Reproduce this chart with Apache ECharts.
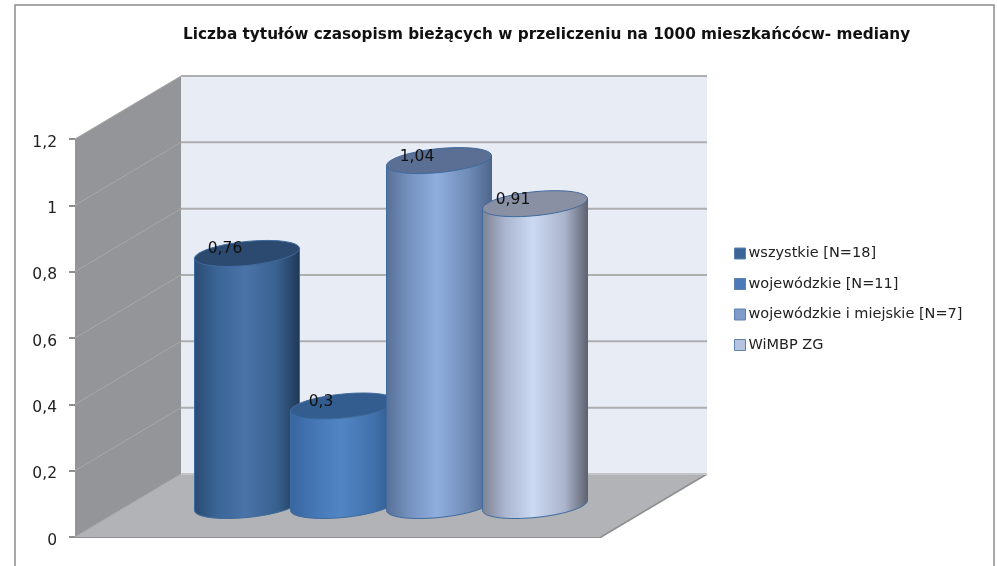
<!DOCTYPE html>
<html>
<head>
<meta charset="utf-8">
<style>html,body{margin:0;padding:0;background:#fff}#main{width:997px;height:566px}</style>
<script src="https://cdn.jsdelivr.net/npm/echarts@6/dist/echarts.min.js"></script>
</head>
<body>
<div id="main"></div>
<script>
const chartTitle = 'Liczba tytułów czasopism bieżących w przeliczeniu na 1000 mieszkańcócw- mediany';
const categories = [''];
const seriesNames = ['wszystkie [N=18]', 'wojewódzkie [N=11]', 'wojewódzkie i miejskie [N=7]', 'WiMBP ZG'];
const seriesValues = [0.76, 0.3, 1.04, 0.91];
const gridValues = [0, 0.2, 0.4, 0.6, 0.8, 1, 1.2];

// side gradient stops + top ellipse colour for each cylinder
const sideColors = [
  ['#2a4b73', '#3a6595', '#4a73a9', '#39618f', '#1f3856'],
  ['#3766a0', '#4576b4', '#5185c4', '#4272ad', '#2f5884'],
  ['#566f96', '#7592bf', '#8fadde', '#6f8bb6', '#4c658c'],
  ['#7c828f', '#abb6d1', '#cbd9f2', '#aab4cc', '#5d616e']
];
const topColors = ['#2c4a70', '#335d8e', '#5a6f93', '#8a90a3'];
const legendColors = ['#3c6597', '#4a7ab8', '#7f9bc8', '#b3c3e0'];

const depthX = 106, depthY = -63;
const rx = 52.5, ry = 12, shear = 5, gap = 96;

const chart = echarts.init(document.getElementById('main'));

function ellipsePoints(cx, cy, from, to) {
  const pts = [];
  for (let i = 0; i <= 48; i++) {
    const t = from + (to - from) * i / 48;
    pts.push([cx + rx * Math.cos(t), cy - shear * Math.cos(t) + ry * Math.sin(t)]);
  }
  return pts;
}

function cylinder(index) {
  return function (params, api) {
    const base = api.coord([0, 0]);
    const top = api.coord([0, api.value(1)]);
    const cx = base[0] + depthX / 2 + gap * (index - 1.5);
    const by = base[1] + depthY / 2;
    const ty = top[1] + depthY / 2;
    const stops = sideColors[index];
    const side = [[cx - rx, ty + shear]].concat(ellipsePoints(cx, by, Math.PI, 0), [[cx + rx, ty - shear]]);
    return {
      type: 'group',
      children: [
        {
          type: 'polygon',
          shape: { points: side },
          style: {
            fill: new echarts.graphic.LinearGradient(0, 0, 1, 0, [
              { offset: 0, color: stops[0] },
              { offset: 0.22, color: stops[1] },
              { offset: 0.48, color: stops[2] },
              { offset: 0.78, color: stops[3] },
              { offset: 1, color: stops[4] }
            ]),
            stroke: '#3f6a9e',
            lineWidth: 1
          }
        },
        {
          type: 'polygon',
          shape: { points: ellipsePoints(cx, ty, 0, Math.PI * 2) },
          style: { fill: topColors[index], stroke: '#3f6a9e', lineWidth: 1 }
        },
        {
          type: 'text',
          x: cx - 22,
          y: ty - 4,
          style: {
            text: String(api.value(1)).replace('.', ','),
            fill: '#111',
            font: '15.5px "DejaVu Sans"',
            align: 'center',
            verticalAlign: 'middle'
          }
        }
      ]
    };
  };
}

function renderWalls(params, api) {
  const a = api.coord([0, 0]);
  const b = api.coord([0, 1.2]);
  const half = api.size([1, 0])[0] / 2;
  const x0 = a[0] - half, x1 = a[0] + half, y0 = a[1], y1 = b[1];
  return {
    type: 'group',
    children: [
      {
        type: 'polygon',
        shape: { points: [[x0 + depthX, y1 + depthY], [x1 + depthX, y1 + depthY], [x1 + depthX, y0 + depthY], [x0 + depthX, y0 + depthY]] },
        style: { fill: '#e8ecf5' }
      },
      {
        type: 'polygon',
        shape: { points: [[x0, y1], [x0 + depthX, y1 + depthY], [x0 + depthX, y0 + depthY], [x0, y0]] },
        style: { fill: '#949598' }
      },
      {
        type: 'polygon',
        shape: { points: [[x0, y0], [x1, y0], [x1 + depthX, y0 + depthY], [x0 + depthX, y0 + depthY]] },
        style: { fill: '#b1b3b6' }
      },
      {
        type: 'polyline',
        shape: { points: [[x1, y0], [x1 + depthX, y0 + depthY]] },
        style: { stroke: '#8e8f91', lineWidth: 1.5, fill: 'none' }
      }
    ]
  };
}

function renderGridLine(params, api) {
  const p = api.coord([0, api.value(1)]);
  const half = api.size([1, 0])[0] / 2;
  const x0 = p[0] - half, x1 = p[0] + half, y = p[1];
  const isFloor = api.value(1) === 0;
  return {
    type: 'group',
    children: [
      {
        type: 'line',
        shape: { x1: x0, y1: y, x2: x0 + depthX, y2: y + depthY },
        style: { stroke: '#a7a8aa', lineWidth: 1 }
      },
      {
        type: 'line',
        shape: { x1: x0 + depthX, y1: y + depthY, x2: x1 + depthX, y2: y + depthY },
        style: { stroke: isFloor ? '#c3c5c9' : '#adaeb0', lineWidth: 2 }
      }
    ]
  };
}

const series = [
  { name: 'walls', type: 'custom', z: 1, silent: true, data: [[0, 1.2]], renderItem: renderWalls },
  { name: 'grid', type: 'custom', z: 2, silent: true, data: gridValues.map(v => [0, v]), renderItem: renderGridLine }
];
seriesNames.forEach((name, i) => {
  series.push({
    name: name,
    type: 'custom',
    z: 3 + i,
    itemStyle: { color: legendColors[i] },
    data: [[0, seriesValues[i]]],
    renderItem: cylinder(i)
  });
});

chart.setOption({
  animation: false,
  backgroundColor: '#fff',
  title: {
    text: chartTitle,
    left: 178,
    top: 23,
    textStyle: { fontFamily: 'DejaVu Sans', fontSize: 15.3, fontWeight: 'bold', color: '#111' }
  },
  legend: {
    orient: 'vertical',
    left: 729,
    top: 241,
    itemWidth: 11,
    itemHeight: 11,
    itemGap: 15.5,
    icon: 'rect',
    textStyle: { fontFamily: 'DejaVu Sans', fontSize: 14.5, color: '#222', padding: [0, 0, 0, -2] },
    data: seriesNames.map((name, i) => ({
      name: name,
      itemStyle: { color: legendColors[i], borderColor: '#5f82ad', borderWidth: 1 }
    }))
  },
  grid: { left: 75, width: 526, top: 139, height: 398 },
  xAxis: {
    type: 'category',
    data: categories,
    axisLine: { lineStyle: { color: '#8e8f91', width: 2 } },
    axisTick: { show: false },
    axisLabel: { show: false },
    splitLine: { show: false }
  },
  yAxis: {
    type: 'value',
    min: 0,
    max: 1.2,
    interval: 0.2,
    axisLine: { show: true, lineStyle: { color: '#8e8f91', width: 1 } },
    axisTick: { show: true, length: 6, lineStyle: { color: '#8e8f91', width: 2 } },
    splitLine: { show: false },
    axisLabel: {
      margin: 18,
      fontFamily: 'DejaVu Sans',
      fontSize: 15.5,
      color: '#222',
      verticalAlign: 'top',
      lineHeight: 7,
      formatter: v => String(v).replace('.', ',')
    }
  },
  graphic: [
    {
      type: 'polyline',
      silent: true,
      shape: { points: [[15, 566], [15, 5], [994, 5], [994, 566]] },
      style: { stroke: '#8c8c8c', lineWidth: 1.5, fill: 'none' }
    }
  ],
  series: series
});
</script>
</body>
</html>
